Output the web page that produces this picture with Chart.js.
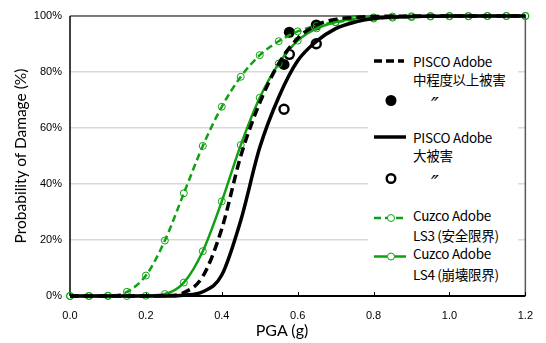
<!DOCTYPE html>
<html lang="ja">
<head>
<meta charset="UTF-8">
<title>Probability of Damage vs PGA</title>
<script src="https://cdn.jsdelivr.net/npm/chart.js"></script>
<style>
  body { margin: 0; background: #fff; }
  #wrap { position: relative; width: 546px; height: 343px; }
  #legend { position: absolute; left: 368px; top: 40px; width: 150px; height: 248px; background: #fff;
            font-family: "Noto Sans CJK JP", "Noto Sans", sans-serif; font-size: 13.5px; color: #000; }
  #legend .t { position: absolute; left: 45px; line-height: 18px; white-space: nowrap; letter-spacing: -0.3px; }
  #legend .d { position: absolute; left: 63px; line-height: 20px; font: italic 21px "DejaVu Sans", sans-serif; }
  #legend svg { position: absolute; left: 0; top: 0; }
  #xtitle { position: absolute; left: 232px; width: 100px; top: 320px; text-align: center;
            font-family: Lato, sans-serif; font-size: 16px; line-height: 20px; }
  #ytitle { position: absolute; left: -80px; width: 200px; top: 146px; text-align: center;
            transform: rotate(-90deg); font-family: Lato, sans-serif; font-size: 15.5px; line-height: 20px; }
</style>
</head>
<body>
<div id="wrap">
  <canvas id="chart"></canvas>
  <div id="ytitle">Probability of Damage (%)</div>
  <div id="xtitle">PGA (g)</div>
  <div id="legend">
    <svg width="150" height="248">
      <line x1="6" y1="21" x2="36" y2="21" stroke="#000" stroke-width="3.5" stroke-dasharray="8,4"/>
      <circle cx="23" cy="60.5" r="5.5" fill="#000"/>
      <line x1="6" y1="97" x2="38" y2="97" stroke="#000" stroke-width="3.5"/>
      <circle cx="23" cy="138.5" r="4.3" fill="#fff" stroke="#000" stroke-width="2.4"/>
      <line x1="6" y1="178" x2="38" y2="178" stroke="#11a011" stroke-width="2.5" stroke-dasharray="7,4"/>
      <circle cx="23" cy="178" r="3.5" fill="#fff" stroke="#11a011" stroke-width="1"/>
      <line x1="6" y1="216.5" x2="38" y2="216.5" stroke="#11a011" stroke-width="2.5"/>
      <circle cx="23" cy="216.5" r="3.5" fill="#fff" stroke="#11a011" stroke-width="1"/>
    </svg>
    <div class="t" style="top:12px">PISCO Adobe</div>
    <div class="t" style="top:30px">中程度以上被害</div>
    <div class="d" style="top:54px">″</div>
    <div class="t" style="top:88px">PISCO Adobe</div>
    <div class="t" style="top:106px">大被害</div>
    <div class="d" style="top:132px">″</div>
    <div class="t" style="top:166px">Cuzco Adobe</div>
    <div class="t" style="top:186px">LS3 (安全限界)</div>
    <div class="t" style="top:204px">Cuzco Adobe</div>
    <div class="t" style="top:225px">LS4 (崩壊限界)</div>
  </div>
</div>
<script>
// PGA grid (g)
const pga = [0, 0.05, 0.1, 0.15, 0.2, 0.25, 0.3, 0.35, 0.4, 0.45, 0.5, 0.55, 0.6,
             0.65, 0.7, 0.75, 0.8, 0.85, 0.9, 0.95, 1.0, 1.05, 1.1, 1.15, 1.2];

// fragility curves, %
const piscoModerate = [0, 0, 0, 0, 0, 0.1, 1.2, 7, 24, 50, 69, 83, 92,
                       96.8, 98.8, 99.5, 99.8, 99.9, 100, 100, 100, 100, 100, 100, 100];
const piscoSevere   = [0, 0, 0, 0, 0, 0, 0.3, 1.5, 7.5, 27, 53, 71, 84,
                       91, 95.5, 97.8, 99.1, 99.6, 99.8, 99.9, 100, 100, 100, 100, 100];
const cuzcoLS3      = [0, 0, 0.1, 1.5, 7.3, 19.8, 36.7, 53.6, 67.6, 78.3, 86, 91, 94.5,
                       96.5, 97.8, 98.6, 99.1, 99.4, 99.6, 99.8, 99.9, 99.9, 100, 100, 100];
const cuzcoLS4      = [0, 0, 0, 0, 0.1, 0.7, 4.8, 16, 33.8, 53.9, 70.8, 83, 91.2,
                       95.6, 97.8, 99, 99.5, 99.8, 99.9, 100, 100, 100, 100, 100, 100];

// observed damage ratios
const obsPga      = [0.564, 0.578, 0.649];
const obsModerate = [82.7, 94.2, 96.8];
const obsSevere   = [66.7, 86.3, 90.1];

const green = '#11a011';
const pts = (xs, ys) => xs.map((x, i) => ({x: x, y: ys[i]}));

const frame = {
    id: 'frame',
    beforeDatasetsDraw(chart) {
        const {ctx, chartArea: a, scales} = chart;
        ctx.save();
        ctx.strokeStyle = '#595959';
        ctx.lineWidth = 1.5;
        ctx.beginPath();
        ctx.moveTo(a.left, a.top); ctx.lineTo(a.right, a.top); ctx.lineTo(a.right, a.bottom);
        ctx.stroke();
        ctx.strokeStyle = '#000';
        ctx.lineWidth = 1.5;
        ctx.beginPath();
        ctx.moveTo(a.left, a.top); ctx.lineTo(a.left, a.bottom);
        ctx.stroke();
        ctx.lineWidth = 2;
        ctx.beginPath();
        ctx.moveTo(a.left, a.bottom); ctx.lineTo(a.right, a.bottom);
        ctx.stroke();
        ctx.lineWidth = 1;
        scales.x.ticks.forEach(t => {
            const px = Math.round(scales.x.getPixelForValue(t.value)) + 0.5;
            ctx.beginPath();
            ctx.moveTo(px, a.bottom); ctx.lineTo(px, a.bottom - 4);
            ctx.stroke();
        });
        ctx.restore();
    }
};

new Chart(document.getElementById('chart'), {
    type: 'scatter',
    data: {datasets: [
        {label: 'PISCO Adobe 中程度以上被害', data: pts(pga, piscoModerate), showLine: true,
         borderColor: '#000', borderWidth: 3.5, borderDash: [9, 5], pointRadius: 0,
         cubicInterpolationMode: 'monotone'},
        {label: 'PISCO Adobe 大被害', data: pts(pga, piscoSevere), showLine: true,
         borderColor: '#000', borderWidth: 3.5, pointRadius: 0, cubicInterpolationMode: 'monotone'},
        {label: 'Cuzco Adobe LS3 (安全限界)', data: pts(pga, cuzcoLS3), showLine: true,
         borderColor: green, borderWidth: 2.5, borderDash: [7, 4], pointRadius: 3.5,
         pointBorderWidth: 1, pointBorderColor: green, pointBackgroundColor: 'rgba(0,0,0,0)',
         cubicInterpolationMode: 'monotone'},
        {label: 'Cuzco Adobe LS4 (崩壊限界)', data: pts(pga, cuzcoLS4), showLine: true,
         borderColor: green, borderWidth: 2.5, pointRadius: 3.5,
         pointBorderWidth: 1, pointBorderColor: green, pointBackgroundColor: 'rgba(0,0,0,0)',
         cubicInterpolationMode: 'monotone'},
        {label: '中程度以上被害 (観測)', data: pts(obsPga, obsModerate),
         pointRadius: 5.5, pointBackgroundColor: '#000', pointBorderColor: '#000', pointBorderWidth: 0},
        {label: '大被害 (観測)', data: pts(obsPga, obsSevere),
         pointRadius: 4.5, pointBackgroundColor: '#fff', pointBorderColor: '#000', pointBorderWidth: 2.4}
    ]},
    options: {
        responsive: true,
        maintainAspectRatio: false,
        animation: false,
        layout: {padding: {top: 16, right: 17, left: 0, bottom: 0}},
        datasets: {scatter: {clip: false}},
        plugins: {legend: {display: false}, tooltip: {enabled: false}},
        scales: {
            x: {type: 'linear', min: 0, max: 1.2,
                afterFit: s => { s.height = 47; },
                grid: {display: false, drawTicks: false},
                border: {display: false},
                ticks: {stepSize: 0.2, padding: 13, color: '#000', maxRotation: 0,
                        font: {family: '"Liberation Sans", Arial', size: 11},
                        callback: v => v.toFixed(1)}},
            y: {min: 0, max: 100,
                afterFit: s => { s.width = 70; },
                grid: {color: '#d9d9d9', lineWidth: 1.5, drawTicks: false},
                border: {display: false},
                ticks: {stepSize: 20, padding: 8, color: '#000',
                        font: {family: '"Liberation Sans", Arial', size: 11},
                        callback: v => v + '%'}}
        }
    },
    plugins: [frame]
});
</script>
</body>
</html>
